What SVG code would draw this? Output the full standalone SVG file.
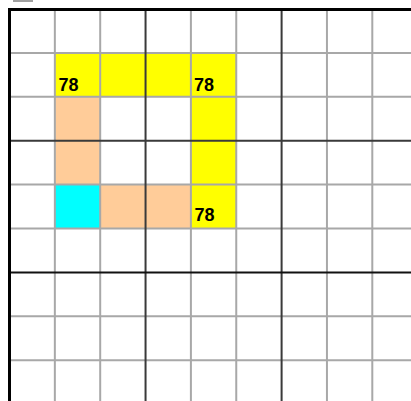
<svg xmlns="http://www.w3.org/2000/svg" width="411" height="401" viewBox="0 0 411 401">
<style>
.thin{stroke:#a8a8a8;stroke-width:2;fill:none}
.box{stroke:#3a3a3a;stroke-width:2;fill:none}
.border{stroke:#000;stroke-width:3;fill:none}
.y{fill:#ffff00}
.p{fill:#ffcc99}
.c{fill:#00ffff}
.t{font-family:"Liberation Sans",Arial,sans-serif;font-size:18px;font-weight:bold;fill:#000}
</style>
<rect x="0" y="0" width="411" height="401" fill="#fff"/>
<rect x="13" y="0" width="20" height="2" fill="#a0a0a0"/>
<g id="cells">
<rect class="y" x="54.85" y="52.9" width="181.4" height="43.9"/>
<rect class="y" x="190.9" y="96.8" width="45.35" height="131.7"/>
<rect class="p" x="54.85" y="96.8" width="45.35" height="87.8"/>
<rect class="c" x="54.85" y="184.6" width="45.35" height="43.9"/>
<rect class="p" x="100.2" y="184.6" width="90.7" height="43.9"/>
</g>
<g id="grid">
<path class="thin" d="M54.85 9V401M100.2 9V401M190.9 9V401M236.25 9V401M326.95 9V401M372.3 9V401M9.5 52.9H411M9.5 96.8H411M9.5 184.6H411M9.5 228.5H411M9.5 316.3H411M9.5 360.2H411"/>
<path class="box" d="M145.55 9V401M281.6 9V401M9.5 140.7H411"/>
<path d="M9.5 272.4H411" stroke="#111" stroke-width="2"/>
<path class="border" d="M9.5 401V9.5H411"/>
</g>
<g id="labels">
<text class="t" x="58.5" y="90.7">78</text>
<text class="t" x="194" y="90.7">78</text>
<text class="t" x="194.5" y="221">78</text>
</g>
</svg>
